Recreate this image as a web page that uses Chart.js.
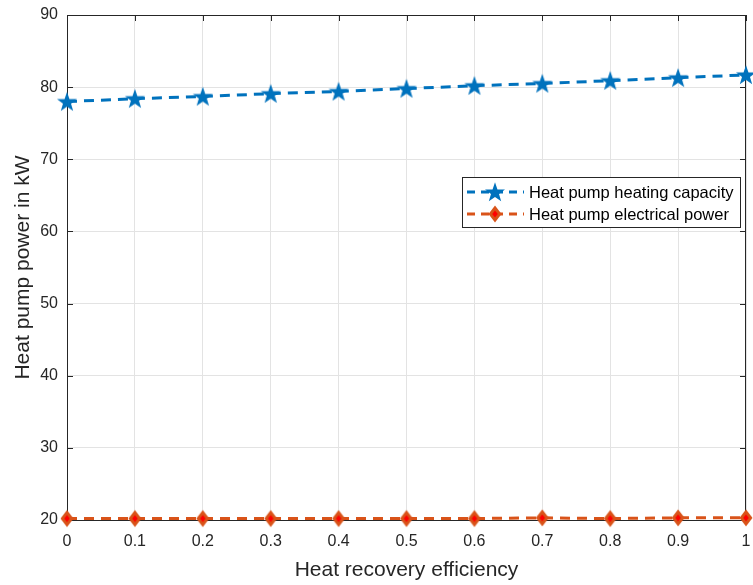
<!DOCTYPE html>
<html>
<head>
<meta charset="utf-8">
<script src="https://cdn.jsdelivr.net/npm/chart.js@4/dist/chart.umd.min.js"></script>
<style>
  html, body { margin: 0; padding: 0; background: #fff; }
  #wrap { width: 753px; height: 585px; position: relative; }
</style>
</head>
<body>
<div id="wrap"><canvas id="chart"></canvas></div>
<script>
// data
const efficiency = [0, 0.1, 0.2, 0.3, 0.4, 0.5, 0.6, 0.7, 0.8, 0.9, 1];
const heatingCapacity = [78.0, 78.4, 78.7, 79.1, 79.4, 79.8, 80.2, 80.5, 80.9, 81.3, 81.7];
const electricalPower = [20.2, 20.2, 20.2, 20.2, 20.2, 20.2, 20.2, 20.3, 20.2, 20.3, 20.3];
const seriesLabels = ['Heat pump heating capacity', 'Heat pump electrical power'];

const BLUE = '#0072BD';
const ORANGE = '#D95319';
const AXIS = '#262626';
const FONT = '"Liberation Sans", Arial, sans-serif';

// filled pentagram marker (MATLAB style)
function makeStar(color) {
    const c = document.createElement('canvas');
    c.width = 22; c.height = 22;
    const g = c.getContext('2d');
    const R = 10.5, r = 4.2;
    g.beginPath();
    for (let i = 0; i < 10; i++) {
        const rad = i % 2 === 0 ? R : r;
        const a = -Math.PI / 2 + i * Math.PI / 5;
        const px = 11 + rad * Math.cos(a), py = 11.8 + rad * Math.sin(a);
        i === 0 ? g.moveTo(px, py) : g.lineTo(px, py);
    }
    g.closePath();
    g.fillStyle = color;
    g.fill();
    return c;
}

// orange diamond with red face
function makeDiamond() {
    const c = document.createElement('canvas');
    c.width = 16; c.height = 20;
    const g = c.getContext('2d');
    g.beginPath();
    g.moveTo(8, 1.5); g.lineTo(14.5, 10); g.lineTo(8, 18.5); g.lineTo(1.5, 10);
    g.closePath();
    g.fillStyle = ORANGE;
    g.fill();
    g.beginPath();
    g.moveTo(8, 6.5); g.lineTo(10.8, 10); g.lineTo(8, 13.5); g.lineTo(5.2, 10);
    g.closePath();
    g.fillStyle = '#FF0000';
    g.fill();
    return c;
}

const starImg = makeStar(BLUE);
const diamondImg = makeDiamond();

// box around axes, inward tick marks, and legend inside the plot
const boxAndLegend = {
    id: 'boxAndLegend',
    beforeDatasetsDraw(chart) {
        const { ctx, chartArea: a, scales } = chart;
        ctx.save();
        ctx.strokeStyle = AXIS;
        ctx.lineWidth = 1;
        ctx.strokeRect(a.left + 0.5, a.top + 0.5, a.right - a.left - 1, a.bottom - a.top);
        ctx.beginPath();
        scales.x.ticks.forEach(t => {
            const px = Math.round(scales.x.getPixelForValue(t.value)) + 0.5;
            ctx.moveTo(px, a.bottom); ctx.lineTo(px, a.bottom - 6);
            ctx.moveTo(px, a.top); ctx.lineTo(px, a.top + 6);
        });
        scales.y.ticks.forEach(t => {
            const py = Math.round(scales.y.getPixelForValue(t.value)) + 0.5;
            ctx.moveTo(a.left, py); ctx.lineTo(a.left + 6, py);
            ctx.moveTo(a.right, py); ctx.lineTo(a.right - 6, py);
        });
        ctx.stroke();
        ctx.restore();
    },
    afterDraw(chart) {
        const { ctx, chartArea: a } = chart;
        const w = 278, h = 50;
        const x = a.right - 6 - w, y = 177;
        ctx.save();
        ctx.fillStyle = '#fff';
        ctx.fillRect(x, y, w, h);
        ctx.strokeStyle = AXIS;
        ctx.lineWidth = 1;
        ctx.strokeRect(x + 0.5, y + 0.5, w, h);
        const rows = [
            { color: BLUE, img: starImg, text: seriesLabels[0], cy: y + 15 },
            { color: ORANGE, img: diamondImg, text: seriesLabels[1], cy: y + 37 }
        ];
        rows.forEach(rw => {
            ctx.strokeStyle = rw.color;
            ctx.lineWidth = 3;
            ctx.setLineDash([8, 6]);
            ctx.beginPath();
            ctx.moveTo(x + 5, rw.cy);
            ctx.lineTo(x + 62, rw.cy);
            ctx.stroke();
            ctx.setLineDash([]);
            ctx.drawImage(rw.img, x + 33 - rw.img.width / 2, rw.cy - rw.img.height / 2);
            ctx.fillStyle = '#000';
            ctx.font = '16.5px ' + FONT;
            ctx.textBaseline = 'middle';
            ctx.fillText(rw.text, x + 67, rw.cy + 1);
        });
        ctx.restore();
    }
};

const ctx = document.getElementById('chart').getContext('2d');
new Chart(ctx, {
    type: 'line',
    data: {
        labels: efficiency,
        datasets: [
            {
                label: seriesLabels[0],
                data: efficiency.map((x, i) => ({ x, y: heatingCapacity[i] })),
                borderColor: BLUE,
                borderWidth: 3,
                borderDash: [10, 7],
                pointStyle: starImg,
                clip: false
            },
            {
                label: seriesLabels[1],
                data: efficiency.map((x, i) => ({ x, y: electricalPower[i] })),
                borderColor: ORANGE,
                borderWidth: 3,
                borderDash: [10, 7],
                pointStyle: diamondImg,
                clip: false
            }
        ]
    },
    options: {
        responsive: true,
        maintainAspectRatio: false,
        animation: false,
        layout: { padding: { top: 15, right: 5, left: 0, bottom: 0 } },
        plugins: { legend: { display: false }, tooltip: { enabled: false } },
        scales: {
            x: {
                type: 'linear',
                min: 0, max: 1,
                ticks: {
                    stepSize: 0.1,
                    color: AXIS,
                    font: { family: FONT, size: 16 },
                    padding: 12,
                    maxRotation: 0,
                    callback: v => String(Math.round(v * 10) / 10)
                },
                grid: { color: '#e3e3e3', drawTicks: false },
                border: { display: false },
                title: {
                    display: true, text: 'Heat recovery efficiency',
                    color: AXIS, font: { family: FONT, size: 21 }, padding: { top: 0, bottom: 2 }
                },
                afterFit: s => { s.height = 65; s.paddingLeft = 0; s.paddingRight = 0; }
            },
            y: {
                min: 20, max: 90,
                ticks: {
                    stepSize: 10,
                    color: AXIS,
                    font: { family: FONT, size: 16 },
                    padding: 9
                },
                grid: { color: '#e3e3e3', drawTicks: false },
                border: { display: false },
                title: {
                    display: true, text: 'Heat pump power in kW',
                    color: AXIS, font: { family: FONT, size: 21 }, padding: { top: 11, bottom: 0 }
                },
                afterFit: s => { s.width = 67; s.paddingTop = 0; s.paddingBottom = 0; }
            }
        }
    },
    plugins: [boxAndLegend]
});
</script>
</body>
</html>
